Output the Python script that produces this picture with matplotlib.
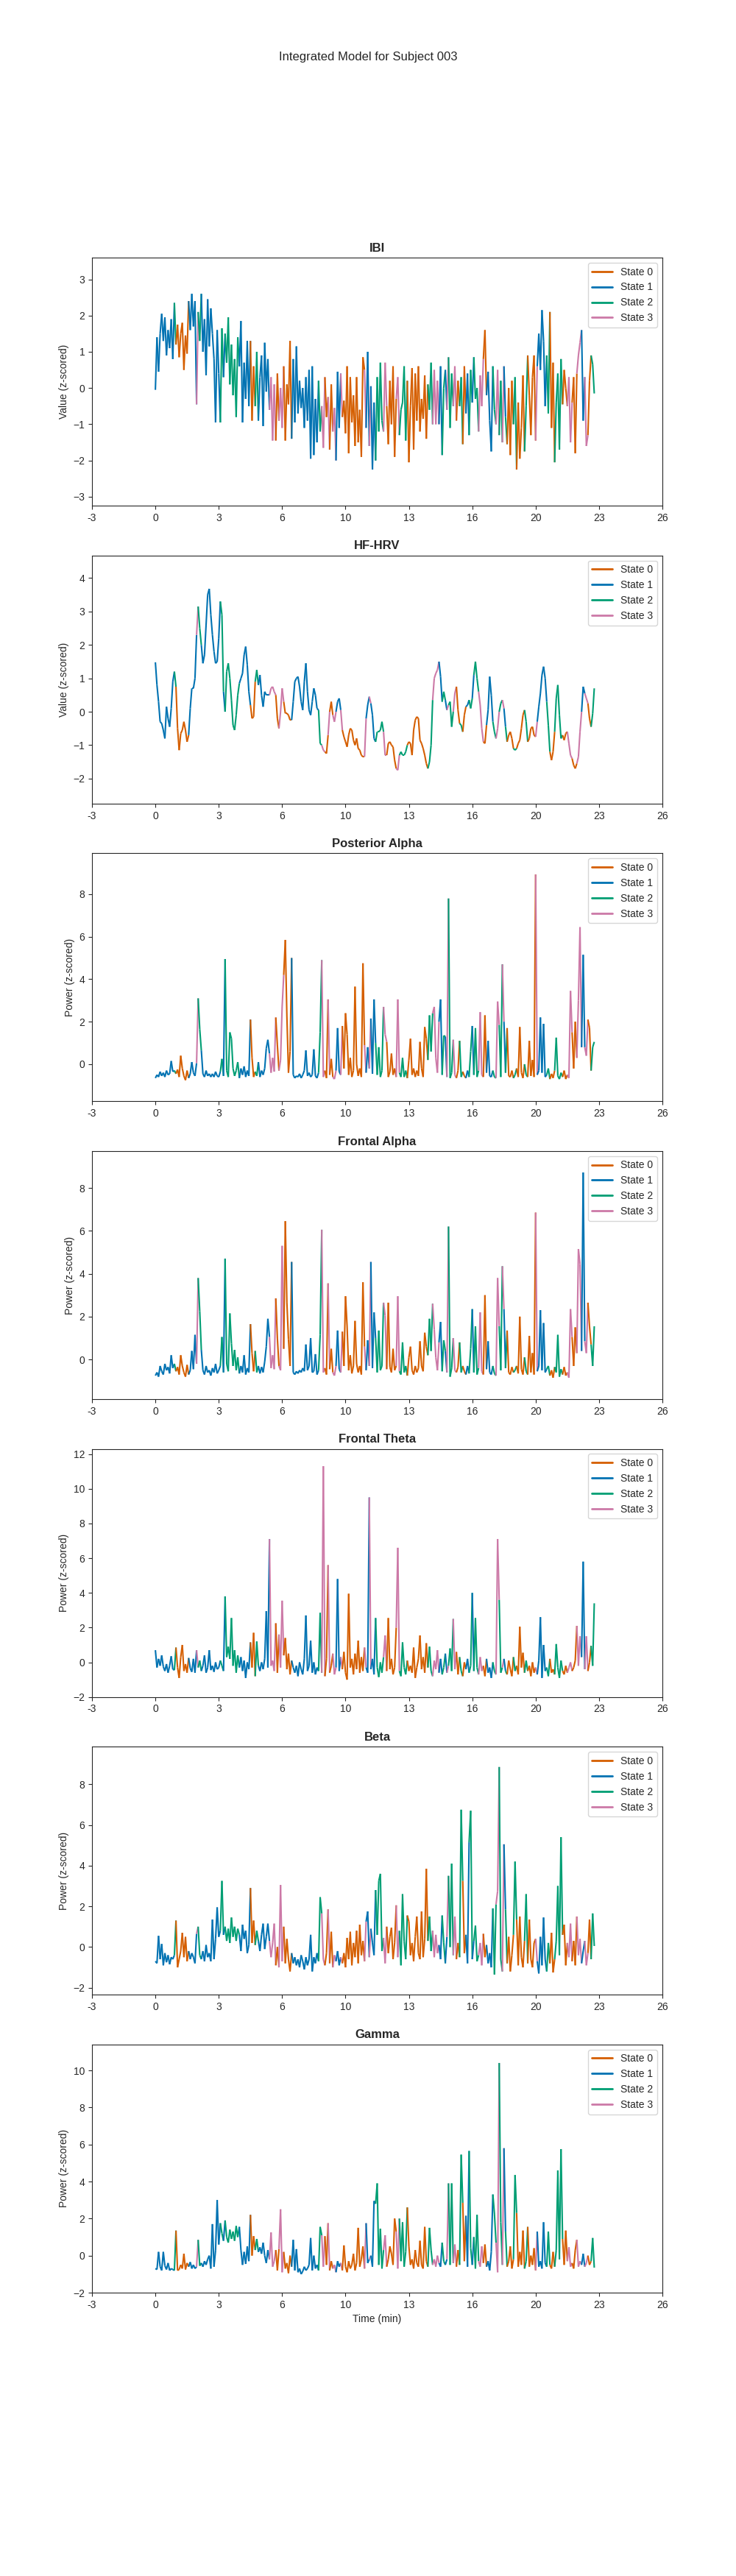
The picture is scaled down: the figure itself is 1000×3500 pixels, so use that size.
import numpy as np
import matplotlib
matplotlib.use("Agg")
import matplotlib.pyplot as plt
import seaborn as sns
from matplotlib.collections import LineCollection
from matplotlib.lines import Line2D

sns.set_style("ticks")
plt.rcParams['font.family'] = ['Liberation Sans', 'DejaVu Sans']

# one sample every 5 s
SAMPLE_STEP = 5

# HMM state sequence as runs: start time (s) and state id
state_starts = [0, 60, 65, 105, 130, 135, 145, 205, 215, 220,
                265, 300, 315, 325, 360, 380, 390, 405, 430, 515,
                525, 535, 545, 550, 560, 570, 585, 590, 660, 665,
                675, 680, 695, 720, 730, 760, 770, 795, 860, 875,
                895, 905, 915, 920, 925, 940, 950, 960, 970, 980,
                990, 1000, 1005, 1020, 1035, 1045, 1065, 1075, 1085, 1095,
                1100, 1105, 1110, 1130, 1140, 1165, 1175, 1200, 1205, 1235,
                1245, 1260, 1285, 1300, 1315, 1330, 1345, 1355, 1365, 1375]
state_ids = [1, 2, 0, 1, 3, 2, 1, 2, 1, 2,
             1, 0, 2, 1, 3, 0, 3, 0, 1, 2,
             3, 0, 3, 0, 3, 1, 3, 0, 3, 1,
             3, 1, 2, 3, 0, 3, 2, 0, 2, 3,
             1, 2, 1, 3, 2, 3, 0, 2, 0, 1,
             2, 1, 2, 3, 0, 1, 2, 3, 2, 3,
             1, 2, 0, 2, 0, 2, 0, 3, 1, 2,
             0, 2, 0, 3, 0, 3, 1, 3, 0, 2]

state_names = ["State 0", "State 1", "State 2", "State 3"]
state_colors = ["#D55E00", "#0072B2", "#009E73", "#CC79A7"]

ibi = [
    -0.05, 1.4, 0.45, 1.5, 2.05, 1.3, 1.95, 0.9, 1.6, 1.1, 1.9, 0.8,
    2.35, 1.2, 1.75, 0.85, 1.5, 1.8, 0.5, 1.45, 0.95, 2.4, 1.6, 2.6,
    1.7, 2.4, -0.45, 2.1, 1.3, 2.6, 1.0, 1.9, 0.35, 2.45, 1.15, 2.2,
    1.5, 0.8, -0.95, 1.6, 0.4, -0.95, 1.65, 0.3, 1.5, 0.7, 1.95, 0.1,
    1.2, -0.2, 0.8, -0.8, 1.4, 0.6, 1.85, -0.95, 0.7, -0.3, 1.3, -0.5,
    1.3, -0.9, 0.6, -0.5, 1.0, -0.9, 0.3, 0.9, -1.05, 1.25, -0.1, 0.8,
    -0.6, 0.3, -1.45, 0.1, -1.45, 0.4, -0.9, 0.0, -1.1, 0.6, -1.45, 0.1,
    -0.45, 1.3, -1.4, 0.8, -0.95, 1.15, -0.7, 0.2, -0.55, 0.0, -1.1, 0.3,
    -0.9, 0.5, -1.95, 0.6, -1.85, -0.3, -1.5, 0.2, -1.2, -0.5, -1.65, 0.3,
    -0.8, -0.25, -1.7, 0.1, -1.2, -0.55, -2.0, 0.45, -1.1, 0.4, -0.8, -0.35,
    -1.25, 0.6, -1.8, 0.3, -0.95, -0.2, -1.6, 0.3, -1.5, -0.6, -1.9, 0.85,
    0.5, -1.1, 1.0, -1.6, 0.05, -2.25, -0.4, -2.0, 0.3, -1.2, 0.7, -0.9,
    -1.2, 0.7, -0.5, -1.55, 0.2, -1.0, 0.6, -1.9, -0.3, 0.3, -1.3, -0.6,
    -0.4, 0.6, -1.45, 0.2, -2.05, -0.5, 0.55, -1.7, 0.4, -0.9, 0.6, -1.2,
    -0.3, -0.85, 0.35, -1.4, 0.1, -0.6, 0.7, -1.0, 0.5, -1.0, 0.2, -1.0,
    0.6, -1.85, 0.0, 0.5, -0.6, 0.85, -1.1, 0.4, -0.5, 0.6, -0.9, 0.2,
    -0.5, 0.3, -1.55, 0.6, -0.7, 0.4, -1.3, 0.5, -0.4, 0.85, -0.3, 0.0,
    -1.2, 0.35, -0.5, 0.8, 1.6, -0.2, 0.45, -0.9, -1.75, 0.6, -0.6, -1.0,
    0.5, -1.3, 0.2, -1.5, 0.6, -0.8, -1.55, 0.0, -1.85, 0.2, -1.0, 0.3,
    -2.25, -0.4, -1.95, -1.1, 0.35, -1.75, -0.5, 0.9, -0.2, -1.3, 0.3, 0.9,
    -1.45, 0.6, 1.5, 0.5, 2.15, 1.3, -0.5, 0.9, -0.7, 2.1, -1.1, 0.7,
    -2.05, -0.4, 0.4, -1.7, 0.8, -0.45, 0.5, 0.0, -0.5, 0.3, -1.5, -0.4,
    0.3, -1.8, 0.4, 0.9, 1.25, 1.6, -0.9, 0.3, -1.6, -1.3, 0.2, 0.9,
    0.65, -0.15,
]

hf_hrv = [
    1.48, 0.8, 0.3, -0.3, -0.35, -0.55, -0.8, 0.15, -0.2, -0.45, 0.1, 0.9,
    1.2, 0.75, -0.5, -1.15, -0.65, -0.55, -0.3, -0.55, -0.9, -0.7, 0.1, 0.7,
    0.7, 1.0, 2.3, 3.15, 2.5, 2.0, 1.45, 1.7, 2.6, 3.5, 3.68, 2.9,
    2.3, 1.8, 1.45, 1.5, 2.2, 3.3, 2.9, 0.6, 0.0, 1.2, 1.45, 1.0,
    0.35, -0.4, -0.55, -0.1, 0.5, 0.85, 1.0, 1.15, 1.7, 1.95, 1.4, 0.6,
    0.2, -0.2, -0.15, 0.9, 1.25, 0.8, 1.1, 0.5, 0.15, 0.6, 0.5, 0.5,
    0.5, 0.7, 0.75, 0.6, 0.5, -0.2, -0.5, 0.0, 0.7, 0.3, -0.05, -0.05,
    -0.1, -0.25, -0.25, 0.3, 0.9, 1.0, 1.05, 0.75, 0.3, 0.05, 0.9, 1.45,
    0.6, 0.05, -0.1, 0.3, 0.7, 0.5, 0.1, 0.05, -0.95, -1.0, -1.15, -1.2,
    -1.25, -0.7, 0.0, 0.3, -0.1, -0.3, 0.0, 0.3, 0.4, 0.05, -0.55, -0.75,
    -0.9, -1.05, -0.7, -0.5, -0.55, -0.85, -1.0, -0.8, -1.1, -1.15, -1.3, -1.35,
    -1.35, -0.2, 0.2, 0.45, 0.25, -0.1, -0.8, -0.9, -0.6, -0.6, -0.55, -0.3,
    -0.6, -1.3, -1.3, -0.95, -0.9, -1.0, -1.05, -1.45, -1.7, -1.75, -1.3, -1.2,
    -1.3, -1.3, -1.2, -1.0, -0.9, -0.95, -1.3, -0.55, -0.25, -0.15, -0.2, -0.85,
    -0.95, -1.1, -1.3, -1.55, -1.7, -1.5, -1.0, 0.35, 1.0, 1.15, 1.25, 1.5,
    1.05, 0.3, 0.6, 0.35, 0.05, 0.2, 0.3, -0.45, 0.0, 0.55, 0.75, 0.05,
    -0.35, -0.4, -0.6, -0.1, 0.15, 0.2, 0.35, 0.1, 0.4, 1.1, 1.5, 1.0,
    0.6, 0.2, -0.5, -0.9, -0.95, -0.4, 0.05, 1.05, 0.5, -0.3, -0.6, -0.8,
    -0.5, 0.0, 0.25, 0.35, 0.1, -0.45, -0.9, -0.7, -0.6, -0.8, -1.1, -1.15,
    -1.1, -0.95, -0.85, -0.5, -0.1, 0.05, -0.3, -0.9, -0.8, -0.5, -0.45, -0.7,
    -0.75, -0.3, 0.15, 0.55, 1.1, 1.35, 1.0, 0.3, -0.4, -1.2, -1.45, -1.2,
    -0.6, 0.4, 0.8, -0.1, -0.8, -0.7, -0.85, -0.65, -0.6, -0.95, -1.3, -1.4,
    -1.6, -1.7, -1.55, -1.35, -0.6, 0.0, 0.75, 0.55, 0.4, 0.25, -0.2, -0.45,
    -0.05, 0.7,
]

posterior_alpha = [
    -0.65, -0.5, -0.6, -0.35, -0.55, -0.4, -0.6, -0.3, -0.5, -0.45, 0.15, -0.35,
    -0.3, -0.45, -0.25, -0.6, 0.4, -0.2, -0.55, -0.75, -0.3, -0.65, -0.45, 0.1,
    -0.4, -0.55, 0.05, 3.1, 1.65, 0.65, -0.45, -0.6, -0.3, -0.55, -0.45, -0.6,
    -0.45, -0.6, -0.35, -0.55, -0.6, -0.35, 0.25, -0.55, 4.95, -0.3, -0.6, 1.5,
    1.2, -0.2, -0.55, -0.3, 0.1, -0.65, -0.2, -0.5, -0.1, -0.6, -0.3, -0.55,
    2.1, 0.3, -0.6, -0.35, -0.55, 0.1, -0.6, -0.3, -0.5, -0.2, 0.75, 1.15,
    0.5, -0.4, 0.3, -0.35, 2.2, 0.9, -0.3, 0.2, 2.7, 4.2, 5.85, 2.25,
    -0.4, 0.6, 5.0, -0.5, -0.65, -0.55, -0.6, -0.45, -0.65, -0.5, -0.3, 0.65,
    -0.55, -0.4, -0.6, -0.5, 0.7, -0.55, -0.65, -0.4, 1.5, 4.9, -0.6, -0.3,
    -0.65, 3.05, -0.5, 0.25, -0.6, -0.7, -0.3, 1.7, -0.35, -0.5, 1.8, -0.2,
    2.4, 1.4, -0.5, 0.3, -0.6, -0.3, 3.65, 0.0, -0.55, -0.2, -0.6, 4.75,
    0.9, -0.4, 0.8, -0.2, 2.15, -0.45, 3.05, 1.0, -0.5, 0.8, -0.6, -0.3,
    2.7, 1.4, 1.05, -0.6, -0.35, 0.5, -0.5, -0.2, -0.6, 3.05, -0.4, -0.6,
    0.3, -0.6, -0.3, -0.65, 0.2, 1.2, -0.5, -0.2, -0.6, -0.3, -0.55, 1.05,
    -0.2, -0.6, 1.75, 1.2, 0.2, 2.3, 0.6, 2.4, 2.7, 0.3, -0.4, 2.0,
    3.05, -0.5, 1.35, 1.3, -0.6, 7.8, -0.65, -0.4, 1.15, -0.5, -0.65, -0.3,
    1.1, -0.6, -0.35, -0.55, -0.65, -0.3, -0.6, 0.6, 1.8, -0.5, 1.7, -0.6,
    -0.3, 2.45, -0.5, -0.6, 2.3, -0.4, 1.1, -0.55, -0.6, -0.3, -0.6, -0.65,
    2.95, 1.85, -0.6, 4.7, 2.0, -0.4, 1.7, -0.55, -0.6, -0.3, -0.65, -0.5,
    -0.2, -0.6, 1.75, -0.4, -0.65, 0.0, -0.5, -0.6, 1.1, -0.55, 0.2, -0.6,
    8.93, -0.5, -0.3, 2.2, -0.4, 1.9, -0.6, -0.5, -0.2, -0.7, -0.45, -0.65,
    -0.3, 1.25, -0.55, -0.7, -0.4, -0.6, -0.3, -0.7, -0.5, -0.65, 3.45, 1.5,
    -0.2, 2.0, 0.3, 3.0, 6.45, 0.8, 5.15, 0.8, 0.4, 2.1, 1.7, -0.3,
    0.8, 1.05,
]

frontal_alpha = [
    -0.75, -0.6, -0.8, -0.3, -0.55, -0.7, -0.2, -0.5, -0.35, -0.65, 0.2, -0.4,
    -0.2, -0.55, -0.35, -0.7, 0.2, -0.3, -0.6, -0.8, -0.25, -0.7, -0.5, 0.4,
    -0.45, 1.15, -0.2, 3.8, 2.25, 0.45, -0.5, -0.7, -0.3, -0.6, -0.5, -0.75,
    -0.4, -0.6, -0.2, -0.65, -0.5, -0.3, 1.05, -0.6, 4.7, -0.2, -0.55, 2.15,
    0.75, -0.3, 0.45, -0.5, 0.1, -0.65, -0.3, -0.6, 0.2, -0.7, -0.4, -0.6,
    1.65, 0.3, -0.55, 0.4, -0.6, -0.3, -0.65, -0.35, -0.6, -0.1, 0.6, 1.9,
    1.05, -0.4, 0.2, -0.45, 2.85, 1.0, -0.3, -0.5, 5.3, 0.5, 6.45, 2.65,
    0.95, -0.3, 4.55, -0.6, -0.7, -0.55, -0.65, -0.5, -0.6, -0.4, -0.55, 0.7,
    -0.5, -0.3, 1.0, -0.6, -0.55, 0.25, -0.7, -0.5, 1.15, 6.05, -0.6, -0.4,
    -0.7, 3.55, -0.45, 0.5, -0.6, -0.75, -0.3, 1.35, -0.45, -0.6, 1.3, -0.3,
    2.95, 1.55, -0.5, 0.2, -0.65, -0.3, 1.8, -0.2, -0.6, -0.3, -0.7, 3.6,
    0.6, -0.5, 0.9, -0.3, 4.55, -0.4, 2.2, 1.0, -0.6, 1.35, -0.5, -0.3,
    2.65, 2.05, -0.45, 2.65, -0.35, -0.6, 0.5, -0.5, -0.3, 2.95, -0.55, -0.7,
    0.8, -0.6, -0.3, -0.75, 0.1, 0.6, -0.5, -0.7, -0.3, -0.6, -0.4, 0.85,
    -0.3, -0.55, 1.25, 0.6, 0.2, 1.9, 0.4, 2.6, 1.4, 0.1, -0.5, 0.8,
    1.75, -0.55, 0.9, 0.4, -0.6, 6.2, -0.8, -0.4, 1.0, -0.5, -0.6, -0.35,
    0.8, -0.6, -0.3, -0.55, -0.7, -0.3, -0.65, 0.5, 2.35, -0.6, 1.55, -0.7,
    -0.4, 2.2, -0.55, -0.7, 3.0, -0.45, 0.85, -0.6, -0.7, -0.3, -0.65, -0.75,
    3.8, 1.55, -0.5, 4.35, 2.35, -0.4, 1.35, -0.6, -0.7, -0.35, -0.6, -0.5,
    -0.3, -0.65, 2.0, -0.45, -0.7, 0.1, -0.55, -0.7, 1.1, -0.6, 0.3, -0.7,
    6.85, -0.55, -0.3, 2.3, -0.5, 1.7, -0.6, -0.45, -0.3, -0.75, -0.5, -0.85,
    -0.35, -0.6, 1.15, -0.8, -0.45, -0.7, -0.35, -0.75, -0.6, -0.85, 2.35, 1.05,
    -0.3, 1.5, 0.3, 5.15, 4.45, 0.4, 8.72, 0.85, 0.3, 2.65, 1.55, 0.7,
    -0.3, 1.55,
]

frontal_theta = [
    0.7, -0.3, 0.2, -0.2, 0.4, -0.25, -0.5, -0.1, -0.6, -0.2, 0.35, -0.4,
    -0.45, 0.85, -0.3, -0.9, 0.3, 1.0, -0.5, -0.1, -0.6, 0.25, -0.35, -0.55,
    0.2, -0.6, 0.7, -0.3, 0.1, -0.5, -0.2, 0.4, -0.6, -0.3, 0.7, -0.45,
    -0.2, -0.55, 0.0, -0.4, -0.3, 0.1, -0.2, -0.5, 3.8, 0.3, 0.9, 0.2,
    2.55, -0.2, 0.7, -0.6, 0.4, -0.3, 0.3, -0.5, 0.1, -0.9, 0.0, -0.4,
    1.15, -0.3, 1.7, -0.8, 1.2, -0.2, -0.5, 0.0, -0.4, 0.2, 2.95, -0.3,
    7.1, -0.2, 0.1, -0.5, 2.25, -0.6, 1.6, -0.3, 3.55, 0.4, 1.4, -0.4,
    0.5, -0.7, 0.1, -0.3, -0.6, -0.2, -0.8, 0.0, -0.4, -0.7, 0.2, 2.7,
    -0.5, -0.2, 1.25, -0.6, 0.0, -0.7, -0.3, -0.5, 2.85, -0.6, 11.3, -0.8,
    0.2, 5.6, -0.6, -0.2, 0.5, -0.7, -0.3, 4.8, -0.5, 0.3, -0.4, 0.6,
    -0.6, -1.0, 3.95, -0.3, 0.2, -0.7, 0.5, -0.4, 1.25, -0.6, 0.3, -0.5,
    0.85, -0.3, -0.6, 9.5, -0.4, 0.2, -0.7, 2.55, -0.3, -0.85, 0.0, -0.6,
    0.3, 1.55, -0.5, 2.55, -0.4, 0.2, -0.7, -0.3, 2.0, 6.6, -0.5, -0.8,
    1.15, -0.3, -0.7, 0.1, -0.5, -0.2, -0.6, 0.85, -0.9, -0.3, 0.2, 1.55,
    -0.4, 0.3, -0.6, 1.1, -0.3, 0.9, -0.5, -0.8, 0.1, -0.4, 0.7, -0.6,
    0.2, -0.7, -0.3, 0.5, -0.6, -0.2, 0.8, -0.5, 2.5, -0.4, 0.6, -0.7,
    0.3, -0.5, -0.8, 0.0, -0.4, 0.2, -0.6, -0.2, 4.0, -0.5, 2.55, -0.3,
    -0.7, 0.3, -0.5, -0.2, -0.8, 0.2, -0.6, -0.3, -0.9, 0.0, -0.5, -0.7,
    7.1, 3.6, -0.6, -0.3, 0.2, -0.5, -0.7, 0.1, -0.4, -0.8, 0.3, -0.5,
    -0.2, -0.7, 2.05, -0.3, 0.55, -0.6, 0.1, -0.5, -0.2, -0.8, 0.0, -0.6,
    -0.3, -0.7, 0.1, 2.6, -0.9, 1.0, -0.5, -0.3, -0.8, 0.2, -0.6, -0.4,
    -0.7, 1.05, -0.3, -0.9, 0.1, -0.5, -0.7, -0.2, -0.6, -0.3, 0.0, -0.5,
    -0.3, 0.1, 2.1, -0.2, 1.5, 0.3, 5.8, -0.4, 1.5, -0.5, 0.0, 0.95,
    -0.2, 3.4,
]

beta = [
    -0.7, -0.8, 0.55, -0.6, 0.15, -0.9, -0.3, -0.75, -0.4, -0.85, -0.5, -0.6,
    -0.4, 1.3, -1.0, -0.6, -0.2, 0.7, -0.5, 0.5, -0.7, -0.2, -0.6, -0.3,
    -0.5, -0.8, 0.65, 1.0, -0.4, -0.6, -0.2, -0.7, 0.1, -0.5, -0.3, -0.7,
    1.35, -0.6, 0.4, 1.95, 0.5, 0.8, 3.25, 0.6, 1.0, 0.3, 0.9, 0.2,
    1.45, 0.5, 1.0, 0.3, 0.9, 0.6, -0.2, 1.1, 0.4, 0.8, -0.3, 0.1,
    2.9, 0.2, 1.3, 0.1, 0.8, 0.3, -0.2, 0.6, 1.15, -0.1, 0.5, 1.15,
    0.3, -0.5, 0.2, 1.15, -0.9, 0.0, -1.0, 3.05, -0.7, 1.0, -0.8, 0.4,
    -0.6, -1.2, -0.3, -0.8, -0.5, -0.9, -0.6, -1.0, -0.4, -0.7, -1.1, -0.5,
    -0.9, -0.6, 0.6, -1.2, -0.5, -0.8, -0.3, -0.7, 2.45, 1.65, -0.6, -0.9,
    -0.3, 1.85, -0.8, 0.75, -1.0, -0.4, -0.7, -0.2, -0.9, -0.5, -0.8, -0.3,
    -1.0, 0.45, -0.6, 0.75, -0.9, 0.2, -0.5, 0.8, -0.8, 1.1, -0.4, 0.3,
    -0.7, 1.25, 1.75, -0.5, 0.9, 0.2, -0.4, 2.8, 0.6, 3.25, 3.6, -0.2,
    0.45, -0.8, 1.0, -0.3, 0.5, 0.95, -0.6, 0.2, 2.05, -0.5, 0.8, -0.9,
    2.6, 0.3, -0.6, 1.55, 1.25, -0.4, 0.2, -0.7, 0.5, 1.5, -0.3, -0.6,
    1.75, -0.5, 0.4, 3.85, 0.3, 1.5, -0.2, 0.8, -0.5, 0.6, -0.3, 0.1,
    -0.6, 1.55, 0.2, -0.8, 0.5, 3.5, 0.0, 4.1, -0.4, 1.5, -0.6, 0.2,
    -0.5, 6.75, 3.25, -0.3, 0.6, -0.8, 5.15, 6.7, -0.6, 0.3, 1.05, -0.7,
    -0.4, 0.2, -0.9, 0.65, -0.5, 0.1, -0.8, -0.3, -1.0, 1.9, -1.35, 2.1,
    2.75, 8.85, -0.6, -1.2, 5.05, 1.85, -0.8, 0.5, -1.2, -0.4, 0.6, 4.2,
    1.35, -0.9, 1.5, -0.5, -1.0, 0.3, 2.6, -0.8, 1.35, -0.6, -1.0, 0.2,
    0.4, -0.7, -1.3, 0.5, -0.9, 1.45, -0.6, -1.2, 0.2, -0.8, 0.7, -1.25,
    -0.6, 0.3, 3.0, -0.4, 5.4, 0.6, 1.1, -0.9, 0.2, -0.5, 1.15, -0.7,
    0.3, -0.9, 1.5, -0.4, 0.4, -0.8, -0.2, 0.3, -0.9, -0.3, 1.35, -0.6,
    1.65, 0.05,
]

gamma = [
    -0.7, -0.75, 0.2, -0.6, -0.8, 0.2, -0.55, -0.75, -0.4, -0.8, -0.7, -0.75,
    -0.8, 1.35, -0.8, -0.75, -0.5, -0.7, 0.1, -0.75, -0.4, -0.6, -0.35, -0.7,
    -0.5, -0.7, -0.6, 0.85, -0.55, -0.4, -0.6, -0.3, -0.5, -0.2, 0.0, -0.7,
    1.7, -0.6, 0.3, 3.0, 0.6, 1.75, 1.2, 0.8, 1.9, 1.0, 0.7, 1.4,
    0.9, 1.3, 0.8, 1.6, 1.0, 1.55, 0.3, -0.5, 0.2, -0.45, 0.5, -0.3,
    2.2, 0.0, 1.05, 0.3, 0.9, 0.2, 0.45, 0.1, 0.7, 0.0, -0.4, 0.3,
    -0.2, 1.25, -0.6, -0.3, 0.3, -0.8, 0.35, 2.5, -0.9, 0.2, -0.7, -0.4,
    -0.95, 0.0, -0.6, 0.85, -0.8, 0.35, -0.9, -0.7, -1.0, -0.85, -0.6, -0.8,
    -0.7, -0.5, 0.95, -0.8, 0.0, -0.7, -0.5, -0.8, 1.55, 1.1, -0.6, 1.05,
    -0.5, 1.75, -0.8, -0.3, -0.7, -0.5, -0.9, -0.3, -0.6, -0.4, -0.8, 0.55,
    -0.6, -0.9, -0.3, -0.7, -0.5, 0.1, -0.8, -0.4, 1.5, -0.6, -0.2, 0.5,
    -0.7, 1.75, -0.4, -0.2, 0.0, -0.6, 2.95, 2.8, 3.9, -0.5, 1.45, -0.7,
    0.3, 1.1, -0.6, -0.2, 0.5, 0.1, -0.5, 2.0, 1.3, -0.7, 2.0, -0.3,
    1.8, -0.6, 0.2, 2.6, 0.5, -0.5, -0.2, -0.7, 0.3, -0.4, -0.6, 0.8,
    -0.5, -0.7, 1.55, -0.3, -0.6, 1.5, 0.3, -0.5, -0.2, -0.6, 0.0, -0.4,
    -0.6, 0.7, -0.3, -0.5, -0.2, 3.9, -0.5, 3.9, -0.4, 0.6, -0.6, 0.3,
    -0.5, 5.45, 2.85, -0.3, 2.15, -0.6, 5.65, 0.4, -0.5, 1.0, -0.7, 2.2,
    -0.3, -0.6, 0.5, -0.4, 0.6, -0.6, -0.3, -0.8, 0.2, 3.3, 2.25, 0.7,
    -0.9, 10.4, 1.8, -0.5, 5.8, 1.3, -0.6, -0.3, 0.5, -0.7, -0.2, 4.35,
    2.3, -0.6, 0.2, -0.5, 1.35, -0.7, -0.3, 1.55, -0.6, 0.0, -0.5, 0.4,
    -0.8, 1.3, -0.6, -0.3, -0.7, 1.8, -0.4, -0.6, 1.3, -0.5, -0.7, 0.2,
    -0.6, 0.3, 4.6, -0.2, 5.75, 0.9, -0.5, 1.35, -0.3, 0.45, -0.6, -0.4,
    -0.7, 0.3, 0.85, -0.6, -0.3, -0.5, 0.1, -0.6, -0.4, 0.0, -0.5, -0.3,
    0.95, -0.65,
]

panels = [
    ("IBI", ibi, "Value (z-scored)"),
    ("HF-HRV", hf_hrv, "Value (z-scored)"),
    ("Posterior Alpha", posterior_alpha, "Power (z-scored)"),
    ("Frontal Alpha", frontal_alpha, "Power (z-scored)"),
    ("Frontal Theta", frontal_theta, "Power (z-scored)"),
    ("Beta", beta, "Power (z-scored)"),
    ("Gamma", gamma, "Power (z-scored)"),
]

t = np.arange(len(ibi)) * SAMPLE_STEP
states = np.array(state_ids)[np.searchsorted(state_starts, t, side="right") - 1]

xticks = np.arange(-200, 1601, 200)
xticklabels = [str(int(v / 60)) for v in xticks]

fig, axes = plt.subplots(7, 1, figsize=(10, 35))
fig.subplots_adjust(top=0.9, bottom=0.11, hspace=0.2)
fig.suptitle("Integrated Model for Subject 003")

legend_handles = [Line2D([0], [0], color=c, lw=2) for c in state_colors]

for ax, (title, vals, ylab) in zip(axes, panels):
    y = np.asarray(vals, dtype=float)
    pts = np.column_stack([t, y])
    segs = np.stack([pts[:-1], pts[1:]], axis=1)
    seg_colors = [state_colors[s] for s in states[:-1]]
    ax.add_collection(LineCollection(segs, colors=seg_colors, linewidths=1.5))

    ax.set_xlim(xticks[0], xticks[-1])
    ax.set_ylim(y.min() - 1, y.max() + 1)
    ax.set_xticks(xticks)
    ax.set_xticklabels(xticklabels)
    ax.set_title(title, fontsize=12, fontweight="bold")
    ax.set_ylabel(ylab)
    ax.legend(legend_handles, state_names, loc="upper right")

axes[-1].set_xlabel("Time (min)")

fig.savefig("out.png", dpi=100)
